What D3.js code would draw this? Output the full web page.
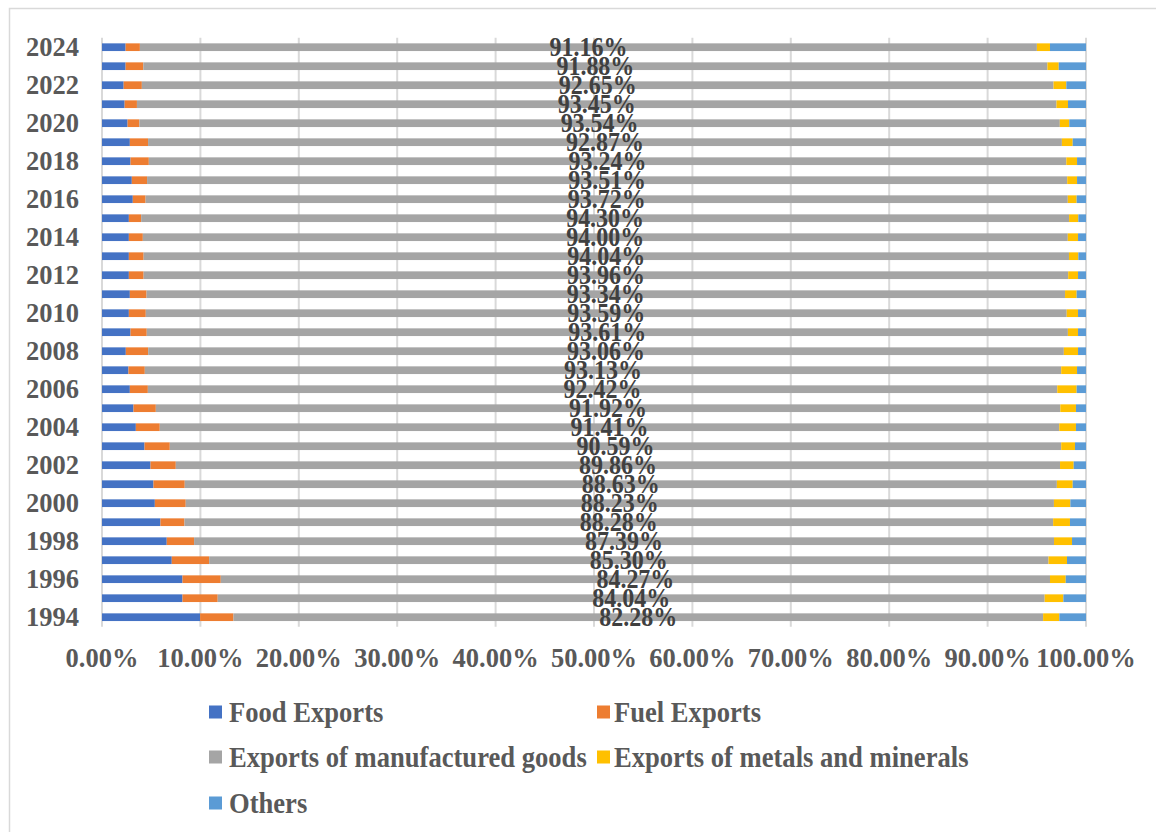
<!DOCTYPE html>
<html>
<head>
<meta charset="utf-8">
<script src="https://cdn.jsdelivr.net/npm/d3@7"></script>
<style>
  html, body { margin: 0; padding: 0; background: #fff; }
  svg { display: block; }
  text { font-family: "Liberation Serif", "Times New Roman", serif; font-weight: bold; }
</style>
</head>
<body>
<svg id="chart" width="1156" height="832"></svg>
<script>
const years = d3.range(1994, 2025);
const foodExports = [9.97, 8.18, 8.18, 7.09, 6.58, 5.94, 5.37, 5.23, 4.93, 4.32, 3.44, 3.20, 2.83, 2.69, 2.42, 2.90, 2.73, 2.83, 2.73, 2.73, 2.73, 2.73, 3.13, 3.03, 2.90, 2.83, 2.60, 2.30, 2.20, 2.40, 2.40];
const fuelExports = [3.39, 3.58, 3.89, 3.80, 2.78, 2.44, 3.14, 3.18, 2.57, 2.57, 2.43, 2.27, 1.83, 1.66, 2.27, 1.65, 1.72, 1.70, 1.50, 1.50, 1.42, 1.25, 1.30, 1.55, 1.86, 1.85, 1.20, 1.25, 1.85, 1.80, 1.45];
const manufacturedExports = [82.28, 84.04, 84.27, 85.30, 87.39, 88.28, 88.23, 88.63, 89.86, 90.59, 91.41, 91.92, 92.42, 93.13, 93.06, 93.61, 93.59, 93.34, 93.96, 94.04, 94.00, 94.30, 93.72, 93.51, 93.24, 92.87, 93.54, 93.45, 92.65, 91.88, 91.16];
const metalsExports = [1.65, 1.90, 1.60, 1.88, 1.83, 1.71, 1.67, 1.61, 1.39, 1.40, 1.70, 1.59, 1.97, 1.61, 1.44, 1.03, 1.15, 1.18, 1.00, 0.95, 1.04, 0.94, 0.90, 1.00, 1.09, 1.10, 0.96, 1.17, 1.30, 1.15, 1.33];
const othersExports = [2.71, 2.30, 2.06, 1.93, 1.42, 1.63, 1.59, 1.35, 1.25, 1.12, 1.02, 1.02, 0.95, 0.91, 0.81, 0.81, 0.81, 0.95, 0.81, 0.78, 0.81, 0.78, 0.95, 0.91, 0.91, 1.35, 1.70, 1.83, 2.00, 2.77, 3.66];
const seriesNames = ["Food Exports", "Fuel Exports", "Exports of manufactured goods", "Exports of metals and minerals", "Others"];
const seriesColors = ["#4472C4", "#ED7D31", "#A5A5A5", "#FFC000", "#5B9BD5"];
const xTickValues = [0, 0.1, 0.2, 0.3, 0.4, 0.5, 0.6, 0.7, 0.8, 0.9, 1.0];
const yearLabels = years.filter(y => y % 2 === 0);

const keys = ["food", "fuel", "manu", "metals", "others"];
const rows = years.map((y, i) => ({
  year: y, food: foodExports[i], fuel: fuelExports[i], manu: manufacturedExports[i],
  metals: metalsExports[i], others: othersExports[i]
}));

const svg = d3.select("#chart");

// outer border
svg.append("rect").attr("x", 9.5).attr("y", 8.5).attr("width", 1170).attr("height", 850)
  .attr("fill", "none").attr("stroke", "#D9D9D9").attr("stroke-width", 1.5);

const x = d3.scaleLinear().domain([0, 1]).range([102, 1086]);
const y = d3.scaleBand().domain(years.slice().reverse()).range([37.7, 626.7])
  .paddingInner(0.595).paddingOuter(0.2975);

// gridlines
svg.append("g").selectAll("line").data(xTickValues).join("line")
  .attr("x1", d => x(d)).attr("x2", d => x(d))
  .attr("y1", 37.7).attr("y2", 626.7)
  .attr("stroke", "#D9D9D9").attr("stroke-width", 2);

const stacked = d3.stack().keys(keys).offset(d3.stackOffsetExpand)(rows);

svg.append("g").selectAll("g").data(stacked).join("g")
  .attr("fill", (d, i) => seriesColors[i])
  .selectAll("rect").data(d => d).join("rect")
  .attr("x", d => x(d[0]))
  .attr("width", d => Math.max(0, x(d[1]) - x(d[0])))
  .attr("y", d => y(d.data.year))
  .attr("height", y.bandwidth());

// data labels for manufactured goods
const manuLayer = stacked[2];
svg.append("g").selectAll("text").data(manuLayer).join("text")
  .attr("transform", d => `translate(${(x(d[0]) + x(d[1])) / 2},${y(d.data.year) + y.bandwidth() / 2 + 9.2}) scale(1,1.13)`)
  .attr("text-anchor", "middle")
  .attr("font-size", 24)
  .attr("fill", "#404040")
  .text(d => d.data.manu.toFixed(2) + "%");

// year labels
svg.append("g").selectAll("text").data(yearLabels).join("text")
  .attr("x", 79)
  .attr("y", d => y(d) + y.bandwidth() / 2 + 9.2)
  .attr("text-anchor", "end")
  .attr("font-size", 26.5)
  .attr("fill", "#595959")
  .text(d => d);

// x tick labels
svg.append("g").selectAll("text").data(xTickValues).join("text")
  .attr("x", d => x(d))
  .attr("y", 667)
  .attr("text-anchor", "middle")
  .attr("font-size", 26.5)
  .attr("fill", "#595959")
  .text(d => (d * 100).toFixed(2) + "%");

// legend
const legendPos = [
  {mx: 209, tx: 229, cy: 712},
  {mx: 597, tx: 614, cy: 712},
  {mx: 209, tx: 229, cy: 757},
  {mx: 597, tx: 614, cy: 757},
  {mx: 209, tx: 229, cy: 803}
];
const lg = svg.append("g").selectAll("g").data(seriesNames).join("g");
lg.append("rect")
  .attr("x", (d, i) => legendPos[i].mx)
  .attr("y", (d, i) => legendPos[i].cy - 6.5)
  .attr("width", 13).attr("height", 13)
  .attr("fill", (d, i) => seriesColors[i]);
lg.append("text")
  .attr("transform", (d, i) => `translate(${legendPos[i].tx},${legendPos[i].cy + 9.5}) scale(1,1.08)`)
  .attr("font-size", 26.6)
  .attr("fill", "#595959")
  .text(d => d);
</script>
</body>
</html>
